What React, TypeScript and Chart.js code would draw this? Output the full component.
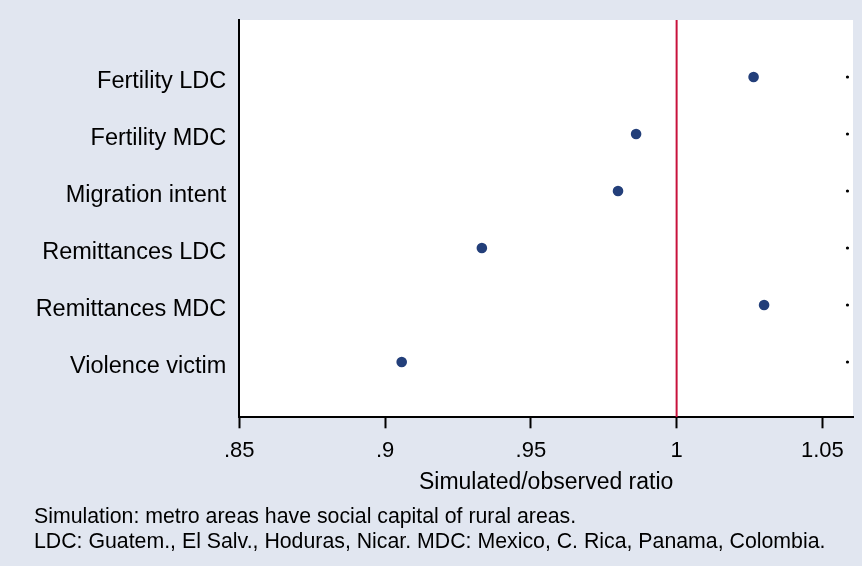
import React, { useEffect, useRef } from "react";
import { Chart, registerables } from "chart.js";

Chart.register(...registerables);

const categories = [
  "Fertility LDC",
  "Fertility MDC",
  "Migration intent",
  "Remittances LDC",
  "Remittances MDC",
  "Violence victim",
];
const ratios = [1.0264, 0.9861, 0.9799, 0.9332, 1.03, 0.9057];
const xTicks = [0.85, 0.9, 0.95, 1, 1.05];
const xTickLabels = [".85", ".9", ".95", "1", "1.05"];
const referenceValue = 1;
const rowEndMarker = 1.0586;
const xTitle = "Simulated/observed ratio";
const notes = [
  "Simulation: metro areas have social capital of rural areas.",
  "LDC: Guatem., El Salv., Hoduras, Nicar. MDC: Mexico, C. Rica, Panama, Colombia.",
];

const FONT = '"Liberation Sans", Arial, sans-serif';
const BG = "#E1E6F0";
const DOT = "#233F7A";
const RED = "#C8123C";

const W = 862;
const H = 566;
const Y_MIN = 0;
const Y_MAX = 6.97;

export default function App() {
  const ref = useRef<HTMLCanvasElement | null>(null);

  useEffect(() => {
    document.body.style.margin = "0";
    const canvas = ref.current;
    if (!canvas) return;

    const bgPlugin = {
      id: "bgPlugin",
      beforeDraw(chart: any) {
        const { ctx, chartArea } = chart;
        ctx.save();
        ctx.fillStyle = BG;
        ctx.fillRect(0, 0, chart.width, chart.height);
        ctx.fillStyle = "#FFFFFF";
        ctx.fillRect(
          chartArea.left,
          chartArea.top,
          chartArea.right - chartArea.left,
          chartArea.bottom - chartArea.top
        );
        ctx.restore();
      },
      afterDraw(chart: any) {
        const { ctx } = chart;
        ctx.save();
        ctx.fillStyle = "#000";
        ctx.font = `21.3px ${FONT}`;
        ctx.textBaseline = "alphabetic";
        ctx.textAlign = "left";
        ctx.fillText(notes[0], 34, 523);
        ctx.fillText(notes[1], 34, 547.5);
        ctx.restore();
      },
    };

    const chart = new Chart(canvas, {
      type: "scatter",
      data: {
        datasets: [
          {
            type: "line",
            data: [
              { x: referenceValue, y: Y_MIN },
              { x: referenceValue, y: Y_MAX },
            ],
            borderColor: RED,
            borderWidth: 2,
            pointRadius: 0,
            showLine: true,
          } as any,
          {
            data: categories.map((_, i) => ({ x: rowEndMarker, y: i + 1 })),
            backgroundColor: "#000",
            borderWidth: 0,
            pointRadius: 1.6,
          },
          {
            data: ratios.map((v, i) => ({ x: v, y: i + 1 })),
            backgroundColor: DOT,
            borderColor: DOT,
            borderWidth: 0,
            pointRadius: 5.3,
          },
        ],
      },
      options: {
        responsive: false,
        animation: false,
        layout: { padding: { left: 0, top: 20, right: 9, bottom: 68.7 } },
        plugins: {
          legend: { display: false },
          tooltip: { enabled: false },
        },
        scales: {
          x: {
            type: "linear",
            position: "bottom",
            min: 0.85,
            max: 1.0605,
            afterBuildTicks: (s: any) => {
              s.ticks = xTicks.map((v) => ({ value: v }));
            },
            afterFit: (s: any) => {
              s.height = 80;
              s.paddingLeft = 0;
              s.paddingRight = 0;
            },
            grid: {
              display: true,
              drawOnChartArea: false,
              drawTicks: true,
              tickLength: 11,
              tickWidth: 2,
              tickColor: "#000",
              color: "#000",
            },
            border: { display: true, color: "#000", width: 2 },
            ticks: {
              color: "#000",
              font: { family: FONT, size: 22 },
              padding: 9,
              maxRotation: 0,
              autoSkip: false,
              callback: (v: any) => {
                const idx = xTicks.findIndex((t) => Math.abs(t - Number(v)) < 1e-9);
                return idx >= 0 ? xTickLabels[idx] : "";
              },
            },
            title: {
              display: true,
              text: xTitle,
              color: "#000",
              font: { family: FONT, size: 23 },
              padding: { top: 0, bottom: 0.5 },
            },
          },
          y: {
            type: "linear",
            position: "left",
            reverse: true,
            min: Y_MIN,
            max: Y_MAX,
            afterBuildTicks: (s: any) => {
              s.ticks = categories.map((_, i) => ({ value: i + 1 }));
            },
            afterFit: (s: any) => {
              s.width = 239.3;
              s.paddingTop = 0;
              s.paddingBottom = 0;
            },
            grid: { display: false },
            border: { display: true, color: "#000", width: 2 },
            ticks: {
              color: "#000",
              font: { family: FONT, size: 23.5 },
              padding: 5,
              labelOffset: 5,
              autoSkip: false,
              callback: (v: any) => categories[Math.round(Number(v)) - 1] ?? "",
            },
          },
        },
      },
      plugins: [bgPlugin],
    });

    return () => chart.destroy();
  }, []);

  return (
    <div style={{ position: "fixed", left: 0, top: 0, width: W, height: H, background: BG }}>
      <canvas ref={ref} width={W} height={H} style={{ width: W, height: H, display: "block" }} />
    </div>
  );
}
